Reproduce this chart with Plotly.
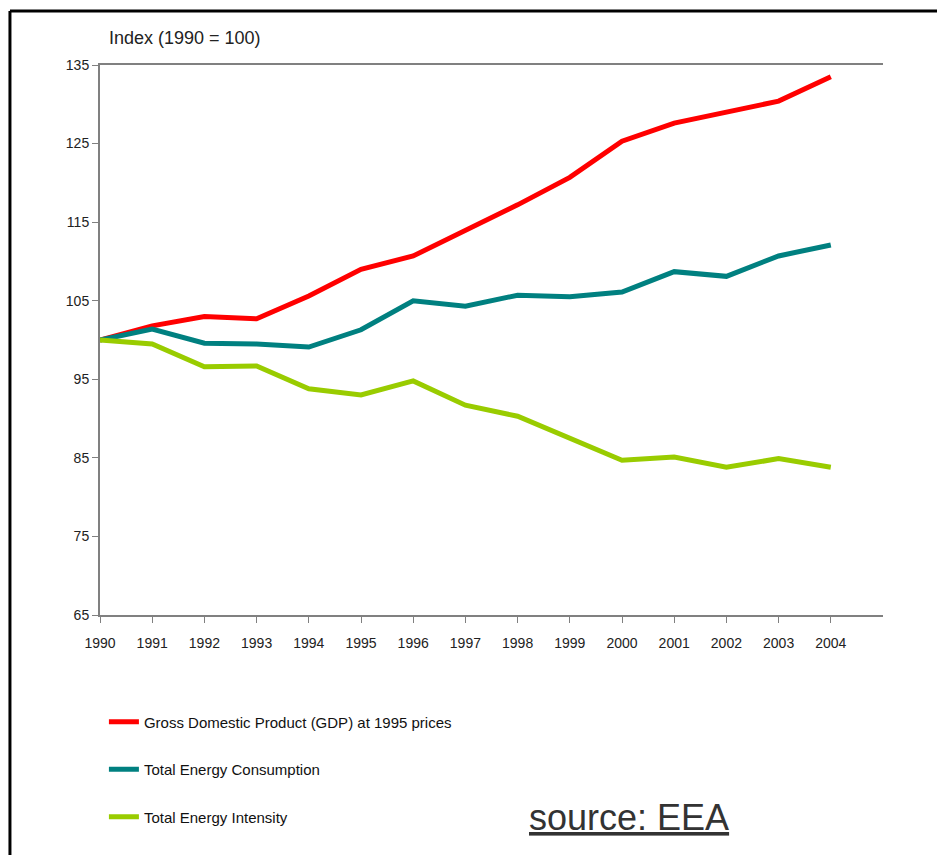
import plotly.graph_objects as go

years = list(range(1990, 2005))
gdp = [100, 101.8, 103.0, 102.7, 105.6, 109.0, 110.7, 113.9, 117.2, 120.7, 125.3, 127.6, 129.0, 130.4, 133.5]
consumption = [100, 101.4, 99.6, 99.5, 99.1, 101.3, 105.0, 104.3, 105.7, 105.5, 106.1, 108.7, 108.1, 110.7, 112.1]
intensity = [100, 99.5, 96.6, 96.7, 93.8, 93.0, 94.8, 91.7, 90.3, 87.5, 84.7, 85.1, 83.8, 84.9, 83.8]

series_names = ["Gross Domestic Product (GDP) at 1995 prices",
                "Total Energy Consumption",
                "Total Energy Intensity"]
series_colors = ["#FF0000", "#008080", "#99CC00"]
y_ticks = [65, 75, 85, 95, 105, 115, 125, 135]

FONT = "Liberation Sans, Arial, sans-serif"

fig = go.Figure()
for i, (name, vals, col) in enumerate(zip(series_names, [gdp, consumption, intensity], series_colors)):
    fig.add_trace(go.Scatter(
        x=years, y=vals, mode="lines", name=name,
        line=dict(color=col, width=5),
        legendgroup=f"g{i}",
    ))

fig.update_layout(
    width=937, height=847,
    margin=dict(l=92, r=62, t=57, b=240),
    paper_bgcolor="white", plot_bgcolor="white",
    font=dict(family=FONT, size=13, color="#222"),
    showlegend=True,
    legend=dict(
        x=0.005, y=-0.1645, xanchor="left", yanchor="top",
        orientation="v", tracegroupgap=25,
        font=dict(family=FONT, size=15, color="#111"),
        bgcolor="rgba(0,0,0,0)",
    ),
    xaxis=dict(
        range=[1990, 2005], tickmode="array", tickvals=years,
        ticktext=[str(y) for y in years],
        showgrid=False, zeroline=False,
        showline=True, linecolor="#808080", linewidth=2, mirror=True,
        ticks="outside", ticklen=6, tickcolor="#808080", tickwidth=1,
        ticklabelstandoff=8,
        tickfont=dict(family=FONT, size=14, color="#222"),
    ),
    yaxis=dict(
        range=[65, 135], tickmode="array", tickvals=y_ticks,
        showgrid=False, zeroline=False,
        showline=True, linecolor="#808080", linewidth=2,
        ticks="outside", ticklen=6, tickcolor="#808080", tickwidth=1,
        tickfont=dict(family=FONT, size=14, color="#222"),
    ),
    annotations=[
        dict(text="Index (1990 = 100)", xref="paper", yref="paper",
             x=0.009, y=1.049, xanchor="left", yanchor="middle",
             showarrow=False, font=dict(family=FONT, size=18, color="#222")),
        dict(text="<u>source: EEA</u>", xref="paper", yref="paper",
             x=0.676, y=-0.369, xanchor="center", yanchor="middle",
             showarrow=False,
             font=dict(family=FONT, size=36, color="#333")),
    ],
    shapes=[
        dict(type="line", xref="paper", yref="paper",
             x0=-0.115, x1=1.1, y0=1.098, y1=1.098,
             line=dict(color="black", width=3)),
        dict(type="line", xref="paper", yref="paper",
             x0=-0.115, x1=-0.115, y0=1.098, y1=-0.45,
             line=dict(color="black", width=3)),
    ],
)

fig.write_html("out.html")
